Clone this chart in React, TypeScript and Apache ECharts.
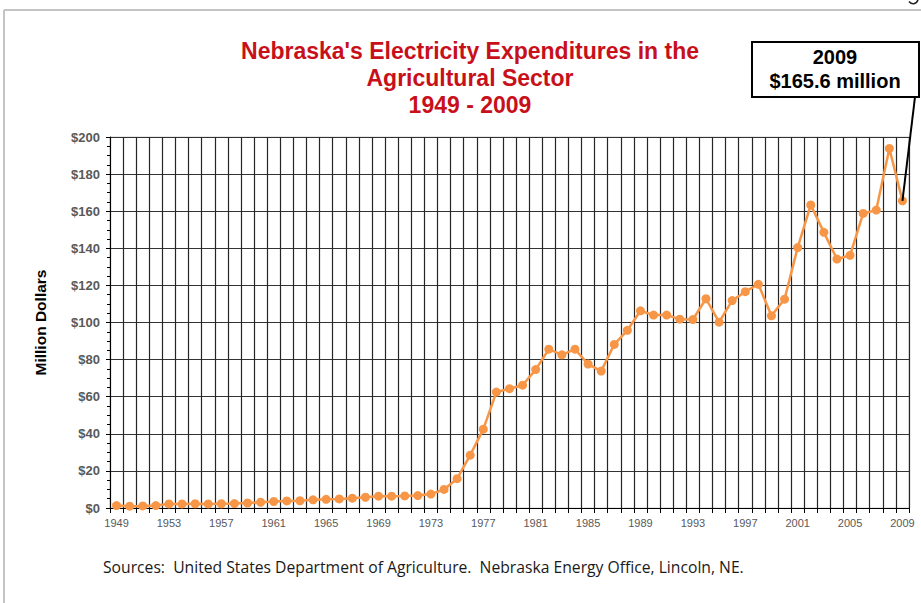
import React, { useEffect, useRef } from "react";
import * as echarts from "echarts";

const years: string[] = [
  "1949","1950","1951","1952","1953","1954","1955","1956","1957","1958",
  "1959","1960","1961","1962","1963","1964","1965","1966","1967","1968",
  "1969","1970","1971","1972","1973","1974","1975","1976","1977","1978",
  "1979","1980","1981","1982","1983","1984","1985","1986","1987","1988",
  "1989","1990","1991","1992","1993","1994","1995","1996","1997","1998",
  "1999","2000","2001","2002","2003","2004","2005","2006","2007","2008","2009",
];

const expenditures: number[] = [
  1.3, 1.0, 1.1, 1.3, 2.2, 2.2, 2.3, 2.2, 2.3, 2.4,
  2.7, 3.1, 3.5, 3.8, 3.9, 4.4, 4.7, 4.9, 5.3, 5.8,
  6.4, 6.4, 6.5, 6.7, 7.5, 10.0, 15.8, 28.5, 42.5, 62.5,
  64.3, 66.2, 74.6, 85.6, 82.6, 85.6, 77.6, 73.8, 88.2, 95.8,
  106.3, 104.0, 104.0, 101.8, 101.6, 112.8, 100.2, 111.8, 116.6, 120.6,
  103.6, 112.6, 140.4, 163.4, 148.6, 134.2, 136.2, 158.8, 160.6, 193.8, 165.6,
];

const titleText = "Nebraska's Electricity Expenditures in the\nAgricultural Sector\n1949 - 2009";
const calloutLines = ["2009", "$165.6 million"];
const sourceText = "Sources:  United States Department of Agriculture.  Nebraska Energy Office, Lincoln, NE.";
const yAxisName = "Million Dollars";

export default function App() {
  const ref = useRef<HTMLDivElement>(null);

  useEffect(() => {
    if (!ref.current) return;
    const chart = echarts.init(ref.current, undefined, { renderer: "svg" });
    chart.setOption({
      animation: false,
      backgroundColor: "#ffffff",
      title: {
        text: titleText,
        left: 465,
        top: 32,
        textAlign: "center",
        textStyle: {
          color: "#c8101a",
          fontSize: 23,
          fontWeight: "bold",
          fontFamily: "Liberation Sans, Arial, sans-serif",
          lineHeight: 27,
        },
      },
      grid: {
        left: 110,
        right: 12,
        top: 137,
        bottom: 95,
        show: true,
        borderColor: "#d0d0d0",
        borderWidth: 1,
      },
      xAxis: {
        type: "category",
        data: years,
        boundaryGap: true,
        axisLine: { lineStyle: { color: "#000", width: 1 } },
        axisTick: { show: true, interval: 0, length: 5, lineStyle: { color: "#000" } },
        axisLabel: {
          interval: 3,
          fontSize: 11,
          color: "#595959",
          margin: 9,
          fontFamily: "Liberation Sans, Arial, sans-serif",
        },
        splitLine: { show: true, interval: 0, lineStyle: { color: "#262626", width: 1.2 } },
      },
      yAxis: {
        type: "value",
        min: 0,
        max: 200,
        interval: 20,
        name: yAxisName,
        nameLocation: "middle",
        nameGap: 62,
        nameRotate: 90,
        nameTextStyle: {
          color: "#000",
          fontSize: 15.5,
          fontWeight: "bold",
          fontFamily: "Liberation Sans, Arial, sans-serif",
        },
        axisLine: { show: true, lineStyle: { color: "#000", width: 1 } },
        axisTick: { show: true, length: 4, lineStyle: { color: "#000" } },
        minorTick: { show: true, splitNumber: 4, length: 3, lineStyle: { color: "#000" } },
        axisLabel: {
          formatter: (v: number) => "$" + v,
          fontSize: 13,
          fontWeight: "bold",
          color: "#595959",
          margin: 10,
          fontFamily: "Liberation Sans, Arial, sans-serif",
        },
        splitLine: { show: true, lineStyle: { color: "#333", width: 1.2 } },
      },
      series: [
        {
          type: "line",
          data: expenditures,
          symbol: "circle",
          symbolSize: 9,
          showAllSymbol: true,
          itemStyle: { color: "#f79646" },
          lineStyle: { color: "#f79646", width: 2.5 },
          z: 5,
        },
      ],
    });

    const pt = chart.convertToPixel({ seriesIndex: 0 }, [years.length - 1, expenditures[expenditures.length - 1]]) as number[];

    chart.setOption({
      graphic: [
        {
          type: "line",
          shape: { x1: 4, y1: 10, x2: 921, y2: 10 },
          style: { stroke: "#c4c4c4", lineWidth: 2 },
        },
        {
          type: "line",
          shape: { x1: 4, y1: 10, x2: 4, y2: 603 },
          style: { stroke: "#c4c4c4", lineWidth: 2 },
        },
        {
          type: "bezierCurve",
          shape: { x1: 909, y1: 1.5, cpx1: 912, cpy1: 5, cpx2: 916, cpy2: 4.5, x2: 918, y2: 0 },
          style: { stroke: "#222", lineWidth: 1.6, fill: null },
        },
        {
          type: "line",
          shape: { x1: 915, y1: 97, x2: pt[0], y2: pt[1] },
          style: { stroke: "#000", lineWidth: 2 },
          z: 10,
        },
        {
          type: "rect",
          shape: { x: 752, y: 42, width: 167, height: 55 },
          style: { fill: "#fff", stroke: "#000", lineWidth: 2 },
          z: 10,
        },
        {
          type: "text",
          x: 835,
          y: 57,
          z: 11,
          style: {
            text: calloutLines[0],
            fill: "#000",
            fontSize: 20,
            fontWeight: "bold",
            fontFamily: "Liberation Sans, Arial, sans-serif",
            align: "center",
            verticalAlign: "middle",
          },
        },
        {
          type: "text",
          x: 835,
          y: 81,
          z: 11,
          style: {
            text: calloutLines[1],
            fill: "#000",
            fontSize: 20,
            fontWeight: "bold",
            fontFamily: "Liberation Sans, Arial, sans-serif",
            align: "center",
            verticalAlign: "middle",
          },
        },
        {
          type: "text",
          x: 103,
          y: 567,
          style: {
            text: sourceText,
            fill: "#1a1a1a",
            fontSize: 15.7,
            fontFamily: "Open Sans, sans-serif",
            align: "left",
            verticalAlign: "middle",
          },
        },
      ],
    });

    return () => chart.dispose();
  }, []);

  return (
    <div
      ref={ref}
      style={{ position: "absolute", left: 0, top: 0, width: 921, height: 603 }}
    />
  );
}
